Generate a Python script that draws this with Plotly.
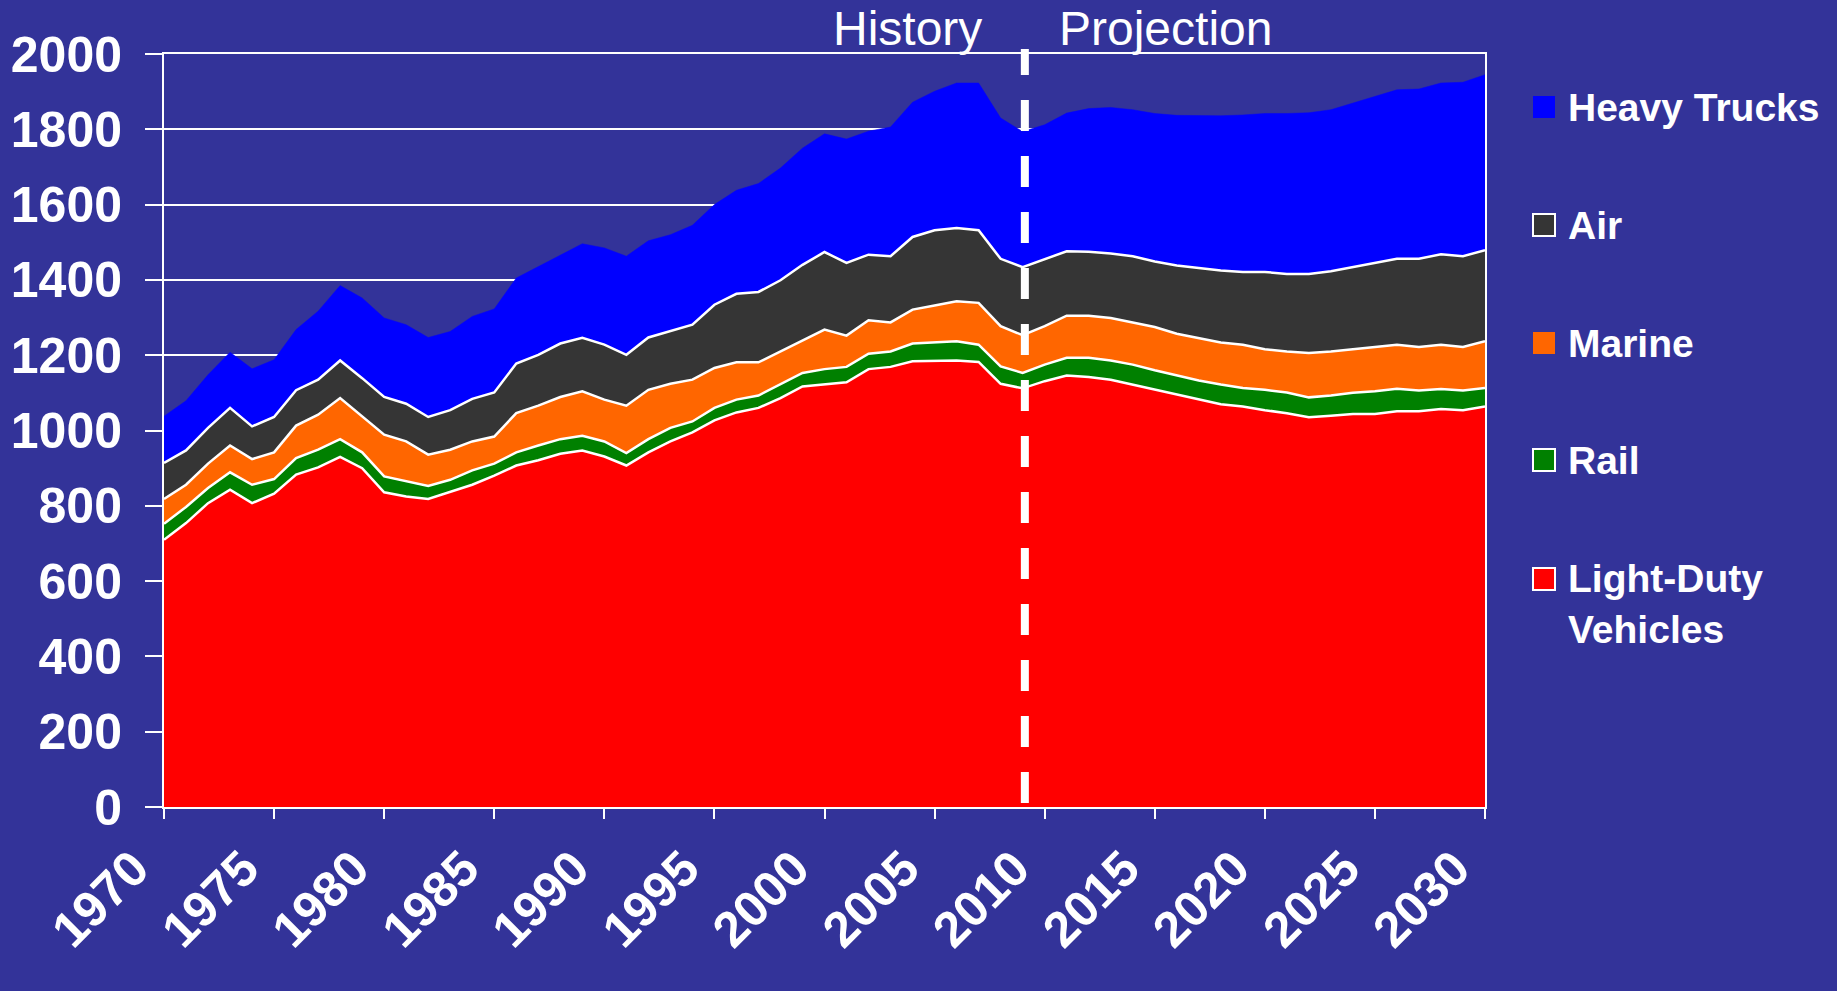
import plotly.graph_objects as go

# ---------------- data ----------------
years = list(range(1970, 2031))

light_duty = [710, 754, 807, 843, 807, 832, 883, 902, 930, 900,
              836, 825, 818, 836, 856, 880, 907, 921, 938, 947,
              931, 907, 942, 971, 995, 1027, 1048, 1060, 1086, 1117,
              1122, 1128, 1163, 1169, 1184, 1186, 1186, 1182, 1124, 1112,
              1131, 1146, 1142, 1135, 1122, 1110, 1095, 1082, 1070, 1064,
              1054, 1046, 1035, 1039, 1044, 1044, 1051, 1051, 1057, 1054,
              1064]
rail = [42, 43, 40, 46, 49, 39, 44, 47, 47, 42,
        42, 40, 35, 33, 38, 32, 35, 39, 39, 39,
        40, 33, 35, 36, 29, 33, 34, 33, 36, 36,
        41, 41, 41, 41, 47, 48, 51, 46, 46, 41,
        44, 47, 51, 51, 53, 50, 51, 51, 52, 49,
        54, 55, 53, 54, 56, 60, 60, 55, 53, 52,
        49]
marine = [66, 59, 65, 71, 68, 71, 86, 93, 109, 96,
          111, 106, 83, 80, 77, 72, 104, 106, 112, 118,
          111, 126, 131, 117, 111, 106, 99, 88, 88, 88,
          105, 83, 89, 77, 90, 98, 106, 111, 107, 100,
          102, 112, 112, 113, 112, 115, 111, 113, 112, 115,
          108, 109, 118, 117, 116, 118, 117, 116, 118, 116,
          124]
air = [96, 91, 95, 100, 87, 94, 94, 93, 100, 101,
       100, 100, 100, 105, 113, 117, 132, 135, 142, 142,
       146, 135, 139, 141, 146, 168, 182, 187, 189, 199,
       206, 193, 174, 176, 193, 200, 195, 193, 179, 181,
       177, 171, 170, 171, 176, 174, 181, 186, 191, 193,
       205, 206, 210, 213, 218, 225, 228, 234, 240, 241,
       242]
heavy_trucks = [124, 132, 141, 148, 153, 152, 161, 182, 199, 213,
                210, 210, 211, 209, 219, 222, 227, 235, 236, 250,
                257, 262, 257, 255, 264, 266, 275, 288, 298, 310,
                314, 329, 328, 343, 358, 369, 385, 391, 374, 360,
                358, 367, 380, 388, 389, 393, 399, 404, 411, 417,
                421, 426, 428, 429, 436, 441, 449, 451, 455, 462,
                466]

series_names = ["Light-Duty Vehicles", "Rail", "Marine", "Air", "Heavy Trucks"]
series_values = [light_duty, rail, marine, air, heavy_trucks]
series_colors = ["#FF0000", "#008000", "#FF6600", "#353535", "#0000FF"]

legend_labels = ["Heavy Trucks", "Air", "Marine", "Rail", "Light-Duty<br>Vehicles"]
legend_colors = ["#0000FF", "#353535", "#FF6600", "#008000", "#FF0000"]
legend_outline = [False, True, False, True, True]

phase_labels = ["History", "Projection"]
history_end_year = 2009.1

y_ticks = list(range(0, 2001, 200))
x_ticks = list(range(1970, 2031, 5))

# ---------------- layout geometry ----------------
W, H = 1837, 991
L, R, T, B = 164, 1485, 54, 807
BG = "#333399"
FONT = "Liberation Sans, Arial, sans-serif"


def px_x(p):
    return (p - L) / (R - L)


def px_y(p):
    return (B - p) / (B - T)


fig = go.Figure()

for name, vals, col in zip(series_names, series_values, series_colors):
    is_top = name == "Heavy Trucks"
    fig.add_trace(go.Scatter(
        x=years, y=vals, name=name, mode="lines",
        stackgroup="one", fillcolor=col,
        line=dict(color=col if is_top else "white", width=0.5 if is_top else 2.5),
        showlegend=False,
        hovertemplate="%{x}: %{y}<extra>" + name + "</extra>",
    ))

shapes = []
# History / Projection divider
shapes.append(dict(type="line", xref="x", yref="paper",
                   x0=history_end_year, x1=history_end_year,
                   y0=px_y(803), y1=px_y(49),
                   line=dict(color="white", width=8, dash="31px,25px"),
                   layer="above"))

annotations = [
    dict(text=phase_labels[0], xref="paper", yref="paper",
         x=px_x(984), y=px_y(28), xanchor="right", yanchor="middle",
         showarrow=False, font=dict(family=FONT, size=48, color="white")),
    dict(text=phase_labels[1], xref="paper", yref="paper",
         x=px_x(1057), y=px_y(28), xanchor="left", yanchor="middle",
         showarrow=False, font=dict(family=FONT, size=48, color="white")),
]

# manual legend
row_centers = [107, 225, 343, 460, 579]
for lab, col, outl, cy in zip(legend_labels, legend_colors, legend_outline, row_centers):
    shapes.append(dict(type="rect", xref="paper", yref="paper",
                       x0=px_x(1533), x1=px_x(1555),
                       y0=px_y(cy + 11), y1=px_y(cy - 11),
                       fillcolor=col,
                       line=dict(color="white" if outl else col, width=2 if outl else 0)))
    ty = cy if "<br>" not in lab else cy + 24.5
    annotations.append(dict(text="<b>" + lab + "</b>", xref="paper", yref="paper",
                            x=px_x(1566), y=px_y(ty), xanchor="left", yanchor="middle",
                            align="left", showarrow=False,
                            font=dict(family=FONT, size=39, color="white")))

fig.update_layout(
    width=W, height=H,
    margin=dict(l=L, r=W - R, t=T, b=H - B, pad=0),
    paper_bgcolor=BG, plot_bgcolor=BG,
    font=dict(family=FONT, color="white"),
    shapes=shapes, annotations=annotations,
    showlegend=False,
    xaxis=dict(
        range=[1970, 2030], tickmode="array", tickvals=x_ticks,
        ticktext=["<b>%d</b>" % v for v in x_ticks],
        tickangle=-45, tickfont=dict(family=FONT, size=50, color="white"),
        ticks="outside", ticklen=10, tickwidth=2, tickcolor="white",
        ticklabelshift=-30, automargin=False,
        showline=True, linecolor="white", linewidth=2, mirror=True,
        showgrid=False, zeroline=False,
    ),
    yaxis=dict(
        range=[0, 2000], tickmode="array", tickvals=y_ticks,
        ticktext=["<b>%d</b>" % v for v in y_ticks],
        tickfont=dict(family=FONT, size=50, color="white"),
        ticks="outside", ticklen=17, tickwidth=2, tickcolor="white",
        ticklabelstandoff=13, automargin=False,
        showline=True, linecolor="white", linewidth=2, mirror=True,
        showgrid=True, gridcolor="white", gridwidth=2, zeroline=False,
    ),
)

fig.write_html(
    "out.html",
    config={"displayModeBar": False},
    post_script=("document.body.style.margin='0';"
                 "document.body.style.overflow='hidden';"
                 "document.body.style.background='" + BG + "';"),
)
